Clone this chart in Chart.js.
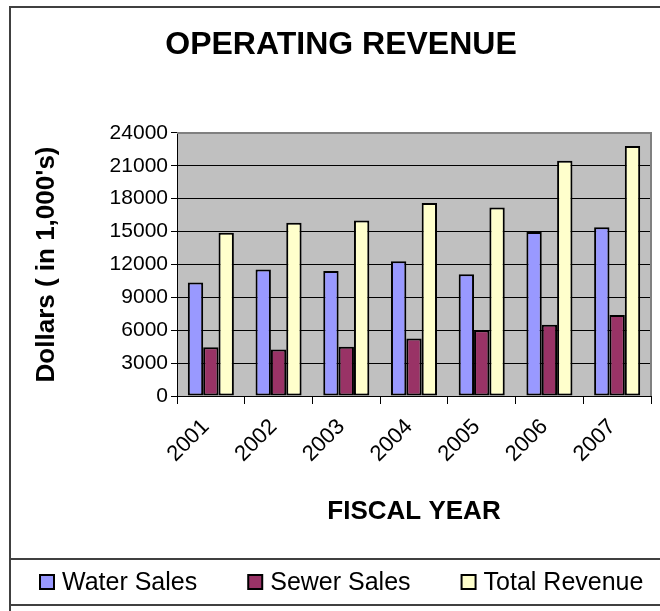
<!DOCTYPE html>
<html><head><meta charset="utf-8">
<script src="https://cdn.jsdelivr.net/npm/chart.js@4.4.0/dist/chart.umd.min.js"></script>
<style>html,body{margin:0;padding:0;background:#fff;overflow:hidden}#wrap{width:660px;height:611px;position:relative}</style>
</head><body><div id="wrap"><canvas id="c" width="660" height="611"></canvas></div>
<script>
const categories = ['2001', '2002', '2003', '2004', '2005', '2006', '2007'];
const waterSales = [10350, 11550, 11400, 12300, 11100, 14950, 15400];
const sewerSales = [4450, 4250, 4500, 5250, 6000, 6500, 7400];
const totalRevenue = [14900, 15800, 16000, 17600, 17200, 21450, 22800];
const seriesNames = ['Water Sales', 'Sewer Sales', 'Total Revenue'];
const seriesColors = ['#9999FF', '#993366', '#FFFFCC'];
const yTickValues = [0, 3000, 6000, 9000, 12000, 15000, 18000, 21000, 24000];
const chartTitle = 'OPERATING REVENUE';
const yTitle = "Dollars ( in 1,000's)";
const xTitle = 'FISCAL YEAR';

const FONT = "'Liberation Sans', Arial, sans-serif";
Chart.defaults.font.family = FONT;
Chart.defaults.color = '#000';

const plotBg = {
  id: 'plotBg',
  beforeDraw(chart) {
    const {ctx, chartArea: a} = chart;
    ctx.save();
    ctx.fillStyle = '#C0C0C0';
    ctx.fillRect(a.left, a.top, a.right - a.left, a.bottom - a.top);
    ctx.restore();
  },
  afterDatasetsDraw(chart) {
    const {ctx, chartArea: a} = chart;
    ctx.save();
    ctx.strokeStyle = '#808080';
    ctx.lineWidth = 2;
    ctx.beginPath();
    ctx.moveTo(a.left, a.top);
    ctx.lineTo(a.right, a.top);
    ctx.lineTo(a.right, a.bottom);
    ctx.stroke();
    ctx.restore();
  }
};

const frameAndLegend = {
  id: 'frameAndLegend',
  afterDraw(chart) {
    const ctx = chart.ctx;
    ctx.save();
    ctx.strokeStyle = '#404040';
    ctx.lineWidth = 2;
    ctx.beginPath();
    ctx.moveTo(10, 611); ctx.lineTo(10, 7); ctx.lineTo(660, 7);
    ctx.moveTo(10, 559); ctx.lineTo(660, 559);
    ctx.moveTo(10, 605); ctx.lineTo(660, 605);
    ctx.stroke();
    ctx.font = '25px ' + FONT;
    ctx.textBaseline = 'middle';
    ctx.textAlign = 'left';
    let x = 40;
    const yc = 582;
    chart.data.datasets.forEach(ds => {
      ctx.fillStyle = ds.backgroundColor;
      ctx.fillRect(x, yc - 7, 14, 14);
      ctx.strokeStyle = '#000';
      ctx.lineWidth = 2;
      ctx.strokeRect(x, yc - 7, 14, 14);
      ctx.fillStyle = '#000';
      ctx.fillText(ds.label, x + 22, yc + 1);
      x += 22 + ctx.measureText(ds.label).width + 51;
    });
    ctx.restore();
  }
};

const seriesData = [waterSales, sewerSales, totalRevenue];

new Chart(document.getElementById('c'), {
  type: 'bar',
  data: {
    labels: categories,
    datasets: seriesNames.map((name, i) => ({
      label: name,
      data: seriesData[i],
      backgroundColor: seriesColors[i],
      borderColor: '#000',
      borderWidth: 2,
      borderSkipped: false,
      categoryPercentage: 0.68,
      barPercentage: 1.0
    }))
  },
  options: {
    responsive: false,
    animation: false,
    layout: {padding: {left: 31, right: 9, top: 0, bottom: 52}},
    plugins: {
      legend: {display: false},
      tooltip: {enabled: false},
      title: {
        display: true,
        text: chartTitle,
        color: '#000',
        font: {size: 32, weight: 'bold'},
        padding: {top: 25.5, bottom: 69}
      }
    },
    scales: {
      x: {
        afterFit(s) { s.height = 163; },
        ticks: {font: {size: 22}, color: '#000', minRotation: 45, maxRotation: 45, autoSkip: false, padding: 10, labelOffset: -5},
        grid: {drawOnChartArea: false, color: '#000', tickLength: 8, offset: true},
        border: {color: '#000', width: 1},
        title: {display: true, text: xTitle, color: '#000', font: {size: 26, weight: 'bold'}, padding: {top: 0, bottom: 31.5}}
      },
      y: {
        min: 0,
        max: 24000,
        afterFit(s) { s.width = 146; },
        afterBuildTicks(s) { s.ticks = yTickValues.map(v => ({value: v})); },
        ticks: {font: {size: 21}, color: '#000', padding: 3, callback: v => String(v)},
        grid: {color: '#000', lineWidth: 1, tickLength: 6},
        border: {color: '#000', width: 1},
        title: {display: true, text: yTitle, color: '#000', font: {size: 26, weight: 'bold'}, padding: {top: 0, bottom: 0}}
      }
    }
  },
  plugins: [plotBg, frameAndLegend]
});
</script>
</body></html>
